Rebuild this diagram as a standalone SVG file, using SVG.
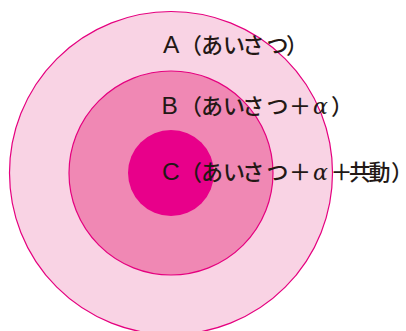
<svg xmlns="http://www.w3.org/2000/svg" width="406" height="331" viewBox="0 0 406 331">
<style>
.ring{stroke:#e5007f;stroke-width:1.2}
.lbl{font-size:22px;font-weight:500;fill:#231815;font-family:"Noto Sans CJK JP","Noto Sans",sans-serif}
.lat{font-family:"Liberation Sans","Noto Sans",sans-serif;font-size:24.5px;font-weight:normal}
.al{font-style:italic;font-weight:normal;font-family:"DejaVu Serif","Noto Sans CJK JP",serif;font-size:22px}
.end{letter-spacing:-9px}
</style>
<rect width="406" height="331" fill="#ffffff"/>
<g id="ringA">
<circle class="ring" cx="171" cy="173" r="161.5" fill="#f9d3e4"/>
</g>
<g id="ringB">
<circle class="ring" cx="171" cy="173" r="102" fill="#f088b4"/>
</g>
<g id="ringC">
<circle cx="171" cy="173" r="43" fill="#e8008a"/>
</g>
<g id="labels">
<text class="lbl" y="53.3"><tspan class="lat" x="163">A</tspan><tspan x="180 201 223 242.3 266.5 286">（あいさつ）</tspan></text>
<text class="lbl" y="114"><tspan class="lat" x="161.5">B</tspan><tspan x="180 201 223 242.3 266.5 289">（あいさつ＋</tspan><tspan class="al" x="313">α</tspan><tspan x="331">）</tspan></text>
<text class="lbl" y="180"><tspan class="lat" x="162">C</tspan><tspan x="180 201 223 242.3 266.5 289">（あいさつ＋</tspan><tspan class="al" x="313">α</tspan><tspan x="330.5 349 368.5">＋共動</tspan><tspan class="end" x="391">）</tspan></text>
</g>
</svg>
